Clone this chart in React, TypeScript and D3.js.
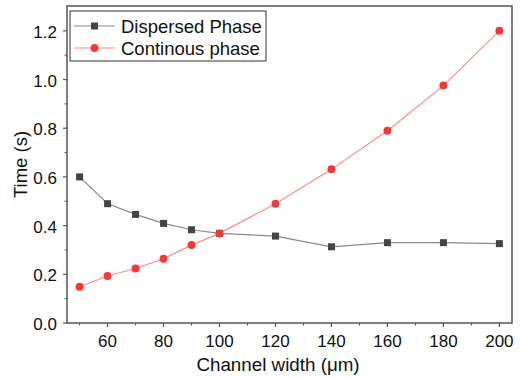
import React from "react";
import * as d3 from "d3";

const channelWidth = [50, 60, 70, 80, 90, 100, 120, 140, 160, 180, 200];
const dispersed = [0.6, 0.49, 0.446, 0.409, 0.383, 0.368, 0.357, 0.313, 0.33, 0.33, 0.326];
const continous = [0.149, 0.193, 0.224, 0.264, 0.32, 0.368, 0.49, 0.631, 0.79, 0.975, 1.2];
const xTicks = [60, 80, 100, 120, 140, 160, 180, 200];
const yTicks = [0, 0.2, 0.4, 0.6, 0.8, 1.0, 1.2];
const seriesNames = ["Dispersed Phase", "Continous phase"];

const W = 521, H = 378;
const L = 67, R = 512, T = 6, B = 323;

export default function App() {
  const x = d3.scaleLinear().domain([45.5, 204.5]).range([L, R]);
  const y = d3.scaleLinear().domain([0, 1.302]).range([B, T]);
  const line = d3.line<number>().x((_, i) => x(channelWidth[i])).y((d) => y(d));
  const xMinor = d3.range(50, 201, 10).filter((v) => !xTicks.includes(v));
  const yMinor = d3.range(0.1, 1.3, 0.2);
  const font = "Arial, 'Liberation Sans', sans-serif";
  const axisCol = "#555";
  return (
    <svg width={W} height={H} style={{ position: "absolute", left: 0, top: 0, background: "#fff" }} fontFamily={font}>
      <rect x={L} y={T} width={R - L} height={B - T} fill="none" stroke={axisCol} strokeWidth={1.5} />
      {xTicks.map((v) => (
        <g key={"xt" + v}>
          <line x1={x(v)} x2={x(v)} y1={B} y2={B + 4} stroke={axisCol} strokeWidth={1.2} />
          <text x={x(v)} y={346.5} textAnchor="middle" fontSize={17} fill="#111">{v}</text>
        </g>
      ))}
      {xMinor.map((v) => (
        <line key={"xm" + v} x1={x(v)} x2={x(v)} y1={B} y2={B + 2.5} stroke={axisCol} strokeWidth={1} />
      ))}
      {yTicks.map((v) => (
        <g key={"yt" + v}>
          <line x1={L - 4} x2={L} y1={y(v)} y2={y(v)} stroke={axisCol} strokeWidth={1.2} />
          <text x={57} y={y(v) + 7} textAnchor="end" fontSize={17} fill="#111">{v.toFixed(1)}</text>
        </g>
      ))}
      {yMinor.map((v) => (
        <line key={"ym" + v} x1={L - 2.5} x2={L} y1={y(v)} y2={y(v)} stroke={axisCol} strokeWidth={1} />
      ))}
      <text x={278} y={371} textAnchor="middle" fontSize={18.8} fill="#111">Channel width (μm)</text>
      <text transform={`translate(27,${(T + B) / 2}) rotate(-90)`} textAnchor="middle" fontSize={18.5} fill="#111">Time (s)</text>

      <path d={line(dispersed) || ""} fill="none" stroke="#8a8a8a" strokeWidth={1.2} />
      <path d={line(continous) || ""} fill="none" stroke="#ff8a8a" strokeWidth={1.2} />
      {dispersed.map((v, i) => (
        <rect key={"d" + i} x={x(channelWidth[i]) - 3.5} y={y(v) - 3.5} width={7} height={7} fill="#444" />
      ))}
      {continous.map((v, i) => (
        <circle key={"c" + i} cx={x(channelWidth[i])} cy={y(v)} r={4} fill="#f03a3a" />
      ))}

      <rect x={70} y={11} width={196} height={50} fill="#fff" stroke={axisCol} strokeWidth={1.2} />
      <line x1={74} x2={115} y1={26} y2={26} stroke="#8a8a8a" strokeWidth={1.2} />
      <rect x={91} y={22.5} width={7} height={7} fill="#444" />
      <text x={121} y={32.5} fontSize={18.5} fill="#111">{seriesNames[0]}</text>
      <line x1={74} x2={115} y1={48} y2={48} stroke="#ff8a8a" strokeWidth={1.2} />
      <circle cx={94.5} cy={48} r={4} fill="#f03a3a" />
      <text x={121} y={54.5} fontSize={18.5} fill="#111">{seriesNames[1]}</text>
    </svg>
  );
}
